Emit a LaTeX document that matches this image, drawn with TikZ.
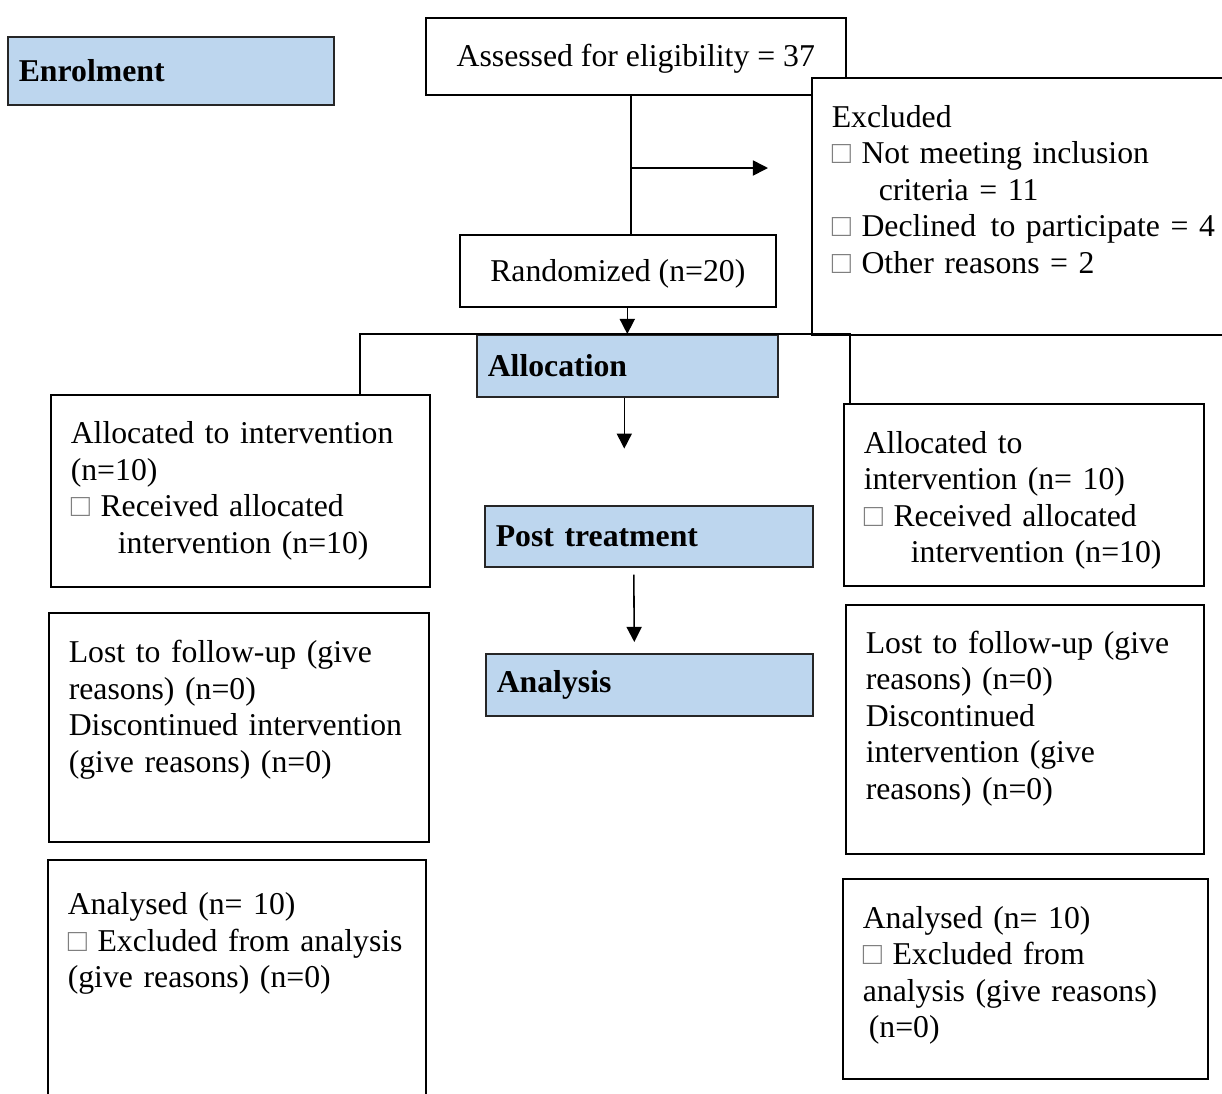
\documentclass[tikz,border=0pt]{standalone}
\usepackage{fontspec}
\setmainfont{Liberation Serif}
\usepackage{xcolor}
\usetikzlibrary{positioning, arrows.meta, calc}
\definecolor{stageblue}{HTML}{BDD6EE}
\definecolor{tickgray}{HTML}{7F7F7F}
\newcommand{\px}{0.378pt}
\newcommand{\chk}{{\color{tickgray}□}}
\newcommand{\hang}{\hspace*{17.8pt}}
\newcommand{\pad}[1]{\rule[-#1]{0pt}{#1}}

\begin{document}
\begin{tikzpicture}[
    x=\px, y=-\px,
    stagebox/.style 2 args={draw=black!85, line width=0.6pt, fill=stageblue, anchor=north west, minimum width=#1*\px, minimum height=#2*\px, text width=(#1-22)*\px, inner xsep=11*\px, align=left, font=\fontsize{12}{13.8}\selectfont\bfseries},
    flowbox/.style 2 args={draw, line width=0.6pt, fill=white, anchor=north west, minimum width=#1*\px, minimum height=#2*\px, text width=(#1-40)*\px, inner xsep=20*\px, align=left, font=\fontsize{12}{13.8}\selectfont},
    midbox/.style 2 args={draw, line width=0.6pt, fill=white, anchor=north west, minimum width=#1*\px, minimum height=#2*\px, align=center, font=\fontsize{12}{13.8}\selectfont},
    flowline/.style={line width=0.6pt},
    flowarrow/.style={flowline, -{Triangle[length=5.7pt, width=5.7pt]}},
]
\useasboundingbox (0,0) rectangle (1222,1093);

% stage labels
\node[stagebox={326}{68}]  (enrol) at (7,36)   {Enrolment};
\node[stagebox={301}{62}]  (alloc) at (476,334) {Allocation};
\node[stagebox={328}{61}]  (post)  at (484,505) {Post treatment};
\node[stagebox={327}{62}]  (anal)  at (485,653) {Analysis};

% screening
\node[midbox={420}{77}]  (assess) at (425,17)  {\rule{0pt}{10.5pt}Assessed for eligibility = 37};
\node[flowbox={480}{257}] (excl)  at (811,77)  {Excluded\\ \chk\ Not meeting inclusion\\ \hang criteria = 11\\ \chk\ Declined\hspace{5.5pt}to participate = 4\\ \chk\ Other reasons = 2\pad{12.9pt}};
\node[midbox={316}{72}]  (rand)   at (459,234) {\rule{0pt}{11pt}Randomized (n=20)};

% the two arms
\node[flowbox={379}{192}] (allocL) at (50,394)  {Allocated to intervention\\ (n=10)\\ \chk\ Received allocated\\ \hang intervention (n=10)};
\node[flowbox={360}{182}] (allocR) at (843,403) {\rule{0pt}{12.7pt}Allocated to\\ intervention (n= 10)\\ \chk\ Received allocated\\ \hang intervention (n=10)};
\node[flowbox={380}{229}] (lostL)  at (48,612)  {Lost to follow-up (give\\ reasons) (n=0)\\ Discontinued intervention\\ (give reasons) (n=0)\pad{15.9pt}};
\node[flowbox={358}{249}] (lostR)  at (845,604) {Lost to follow-up (give\\ reasons) (n=0)\\ Discontinued\\ intervention (give\\ reasons) (n=0)\pad{10.6pt}};
\node[flowbox={378}{261}] (resL)   at (47,859)  {Analysed (n= 10)\\ \chk\ Excluded from analysis\\ (give reasons) (n=0)\pad{37.8pt}};
\node[flowbox={365}{200}] (resR)   at (842,878) {Analysed (n= 10)\\ \chk\ Excluded from\\ analysis (give reasons)\\ \hspace*{2.3pt}(n=0)\pad{5.3pt}};

% screening connectors
\coordinate (split) at (631,168);
\coordinate (exclend) at ($(excl.west |- split)+(-43,0)$);
\draw[flowline] (split |- assess.south) -- (split |- rand.north);
\draw[flowarrow] (split) -- (exclend);
\draw[flowarrow] (rand.south -| alloc.north) -- (alloc.north);

% split into arms
\coordinate (armL) at (360,334);
\coordinate (armR) at (850,334);
\draw[flowline] (armL |- allocL.north) -- (armL) -- (armR) -- (armR |- allocR.north);

% stage arrows
\coordinate (tip1) at ($(alloc.south)+(-3,51)$);
\draw[flowarrow] (tip1 |- alloc.south) -- (tip1);
\coordinate (tail2) at ($(post.south)+(-15,7)$);
\coordinate (tip2) at ($(anal.north)+(-15,-11)$);
\draw[flowarrow] (tail2) -- (tip2);
\end{tikzpicture}
\end{document}
